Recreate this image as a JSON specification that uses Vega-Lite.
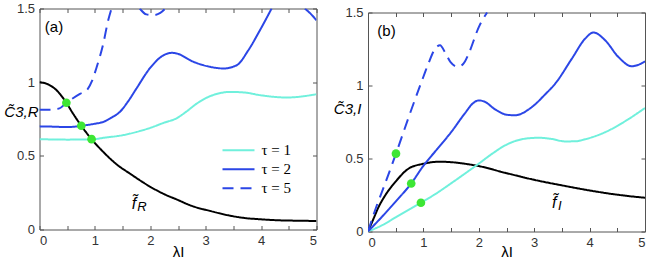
{
  "$schema": "https://vega.github.io/schema/vega-lite/v6.json",
  "background": "white",
  "padding": {"left": 2.5, "top": 1.5, "right": 0, "bottom": 0},
  "spacing": 15.5,
  "config": {
    "view": {"stroke": "#555", "strokeWidth": 1},
    "axis": {"grid": false, "labelFont": "Liberation Sans", "labelFontSize": 13, "labelColor": "#333", "tickColor": "#555", "domainColor": "#555", "domainWidth": 1, "tickSize": -4, "labelPadding": 9, "titleFont": "Liberation Sans", "titleColor": "#000", "titleFontWeight": "normal"},
    "legend": {"labelFont": "Liberation Serif", "labelFontSize": 15, "labelColor": "#000"}
  },
  "datasets": {
    "curves": [
      {"p":"a","s":"f","g":0,"x":0,"y":1},{"p":"a","s":"f","g":0,"x":0.15,"y":0.986},{"p":"a","s":"f","g":0,"x":0.3,"y":0.948},{"p":"a","s":"f","g":0,"x":0.485,"y":0.86},{"p":"a","s":"f","g":0,"x":0.6,"y":0.79},{"p":"a","s":"f","g":0,"x":0.754,"y":0.704},{"p":"a","s":"f","g":0,"x":0.94,"y":0.613},{"p":"a","s":"f","g":0,"x":1.15,"y":0.527},{"p":"a","s":"f","g":0,"x":1.4,"y":0.44},{"p":"a","s":"f","g":0,"x":1.63,"y":0.38},{"p":"a","s":"f","g":0,"x":2,"y":0.29},{"p":"a","s":"f","g":0,"x":2.25,"y":0.24},{"p":"a","s":"f","g":0,"x":2.475,"y":0.204},{"p":"a","s":"f","g":0,"x":2.75,"y":0.16},{"p":"a","s":"f","g":0,"x":3.08,"y":0.126},{"p":"a","s":"f","g":0,"x":3.4,"y":0.097},{"p":"a","s":"f","g":0,"x":3.68,"y":0.079},{"p":"a","s":"f","g":0,"x":4,"y":0.069},{"p":"a","s":"f","g":0,"x":4.28,"y":0.063},{"p":"a","s":"f","g":0,"x":4.6,"y":0.06},{"p":"a","s":"f","g":0,"x":5,"y":0.058},
      {"p":"a","s":"τ = 1","g":0,"x":0,"y":0.613},{"p":"a","s":"τ = 1","g":0,"x":0.5,"y":0.61},{"p":"a","s":"τ = 1","g":0,"x":0.94,"y":0.611},{"p":"a","s":"τ = 1","g":0,"x":1.15,"y":0.622},{"p":"a","s":"τ = 1","g":0,"x":1.5,"y":0.64},{"p":"a","s":"τ = 1","g":0,"x":1.75,"y":0.662},{"p":"a","s":"τ = 1","g":0,"x":2,"y":0.69},{"p":"a","s":"τ = 1","g":0,"x":2.25,"y":0.725},{"p":"a","s":"τ = 1","g":0,"x":2.475,"y":0.755},{"p":"a","s":"τ = 1","g":0,"x":2.65,"y":0.8},{"p":"a","s":"τ = 1","g":0,"x":2.84,"y":0.855},{"p":"a","s":"τ = 1","g":0,"x":3.08,"y":0.905},{"p":"a","s":"τ = 1","g":0,"x":3.25,"y":0.925},{"p":"a","s":"τ = 1","g":0,"x":3.44,"y":0.934},{"p":"a","s":"τ = 1","g":0,"x":3.7,"y":0.93},{"p":"a","s":"τ = 1","g":0,"x":3.98,"y":0.912},{"p":"a","s":"τ = 1","g":0,"x":4.46,"y":0.896},{"p":"a","s":"τ = 1","g":0,"x":5,"y":0.918},
      {"p":"a","s":"τ = 2","g":0,"x":0,"y":0.7},{"p":"a","s":"τ = 2","g":0,"x":0.25,"y":0.698},{"p":"a","s":"τ = 2","g":0,"x":0.5,"y":0.695},{"p":"a","s":"τ = 2","g":0,"x":0.754,"y":0.704},{"p":"a","s":"τ = 2","g":0,"x":1,"y":0.718},{"p":"a","s":"τ = 2","g":0,"x":1.15,"y":0.73},{"p":"a","s":"τ = 2","g":0,"x":1.3,"y":0.76},{"p":"a","s":"τ = 2","g":0,"x":1.45,"y":0.798},{"p":"a","s":"τ = 2","g":0,"x":1.6,"y":0.87},{"p":"a","s":"τ = 2","g":0,"x":1.75,"y":0.957},{"p":"a","s":"τ = 2","g":0,"x":1.99,"y":1.093},{"p":"a","s":"τ = 2","g":0,"x":2.24,"y":1.183},{"p":"a","s":"τ = 2","g":0,"x":2.4,"y":1.199},{"p":"a","s":"τ = 2","g":0,"x":2.475,"y":1.195},{"p":"a","s":"τ = 2","g":0,"x":2.78,"y":1.138},{"p":"a","s":"τ = 2","g":0,"x":3.08,"y":1.104},{"p":"a","s":"τ = 2","g":0,"x":3.32,"y":1.093},{"p":"a","s":"τ = 2","g":0,"x":3.56,"y":1.115},{"p":"a","s":"τ = 2","g":0,"x":3.77,"y":1.217},{"p":"a","s":"τ = 2","g":0,"x":3.98,"y":1.353},{"p":"a","s":"τ = 2","g":0,"x":4.19,"y":1.5},
      {"p":"a","s":"τ = 2","g":1,"x":4.79,"y":1.5},{"p":"a","s":"τ = 2","g":1,"x":4.9,"y":1.462},{"p":"a","s":"τ = 2","g":1,"x":5,"y":1.42},
      {"p":"a","s":"τ = 5","g":0,"x":0,"y":0.813},{"p":"a","s":"τ = 5","g":0,"x":0.2,"y":0.813},{"p":"a","s":"τ = 5","g":0,"x":0.36,"y":0.822},{"p":"a","s":"τ = 5","g":0,"x":0.485,"y":0.86},{"p":"a","s":"τ = 5","g":0,"x":0.55,"y":0.877},{"p":"a","s":"τ = 5","g":0,"x":0.73,"y":0.92},{"p":"a","s":"τ = 5","g":0,"x":0.853,"y":0.945},{"p":"a","s":"τ = 5","g":0,"x":0.95,"y":1.01},{"p":"a","s":"τ = 5","g":0,"x":1.03,"y":1.1},{"p":"a","s":"τ = 5","g":0,"x":1.15,"y":1.26},{"p":"a","s":"τ = 5","g":0,"x":1.24,"y":1.42},{"p":"a","s":"τ = 5","g":0,"x":1.3,"y":1.5},
      {"p":"a","s":"τ = 5","g":1,"x":1.81,"y":1.5},{"p":"a","s":"τ = 5","g":1,"x":1.93,"y":1.46},{"p":"a","s":"τ = 5","g":1,"x":2.05,"y":1.455},{"p":"a","s":"τ = 5","g":1,"x":2.18,"y":1.47},{"p":"a","s":"τ = 5","g":1,"x":2.27,"y":1.5},
      {"p":"b","s":"f","g":0,"x":0,"y":0},{"p":"b","s":"f","g":0,"x":0.1,"y":0.088},{"p":"b","s":"f","g":0,"x":0.19,"y":0.167},{"p":"b","s":"f","g":0,"x":0.31,"y":0.247},{"p":"b","s":"f","g":0,"x":0.49,"y":0.338},{"p":"b","s":"f","g":0,"x":0.73,"y":0.43},{"p":"b","s":"f","g":0,"x":1,"y":0.464},{"p":"b","s":"f","g":0,"x":1.3,"y":0.478},{"p":"b","s":"f","g":0,"x":1.5,"y":0.475},{"p":"b","s":"f","g":0,"x":1.75,"y":0.464},{"p":"b","s":"f","g":0,"x":2,"y":0.448},{"p":"b","s":"f","g":0,"x":2.476,"y":0.402},{"p":"b","s":"f","g":0,"x":3,"y":0.354},{"p":"b","s":"f","g":0,"x":3.5,"y":0.316},{"p":"b","s":"f","g":0,"x":4,"y":0.281},{"p":"b","s":"f","g":0,"x":4.52,"y":0.251},{"p":"b","s":"f","g":0,"x":5,"y":0.231},
      {"p":"b","s":"τ = 1","g":0,"x":0,"y":0},{"p":"b","s":"τ = 1","g":0,"x":0.25,"y":0.042},{"p":"b","s":"τ = 1","g":0,"x":0.5,"y":0.097},{"p":"b","s":"τ = 1","g":0,"x":0.955,"y":0.197},{"p":"b","s":"τ = 1","g":0,"x":1.25,"y":0.265},{"p":"b","s":"τ = 1","g":0,"x":1.5,"y":0.33},{"p":"b","s":"τ = 1","g":0,"x":2,"y":0.465},{"p":"b","s":"τ = 1","g":0,"x":2.25,"y":0.535},{"p":"b","s":"τ = 1","g":0,"x":2.476,"y":0.59},{"p":"b","s":"τ = 1","g":0,"x":2.66,"y":0.62},{"p":"b","s":"τ = 1","g":0,"x":2.84,"y":0.636},{"p":"b","s":"τ = 1","g":0,"x":3.08,"y":0.642},{"p":"b","s":"τ = 1","g":0,"x":3.3,"y":0.635},{"p":"b","s":"τ = 1","g":0,"x":3.56,"y":0.617},{"p":"b","s":"τ = 1","g":0,"x":3.75,"y":0.618},{"p":"b","s":"τ = 1","g":0,"x":3.92,"y":0.632},{"p":"b","s":"τ = 1","g":0,"x":4.28,"y":0.68},{"p":"b","s":"τ = 1","g":0,"x":4.64,"y":0.755},{"p":"b","s":"τ = 1","g":0,"x":5,"y":0.846},
      {"p":"b","s":"τ = 2","g":0,"x":0,"y":0},{"p":"b","s":"τ = 2","g":0,"x":0.25,"y":0.1},{"p":"b","s":"τ = 2","g":0,"x":0.5,"y":0.205},{"p":"b","s":"τ = 2","g":0,"x":0.78,"y":0.329},{"p":"b","s":"τ = 2","g":0,"x":1,"y":0.45},{"p":"b","s":"τ = 2","g":0,"x":1.25,"y":0.565},{"p":"b","s":"τ = 2","g":0,"x":1.5,"y":0.68},{"p":"b","s":"τ = 2","g":0,"x":1.75,"y":0.81},{"p":"b","s":"τ = 2","g":0,"x":1.9,"y":0.88},{"p":"b","s":"τ = 2","g":0,"x":2,"y":0.898},{"p":"b","s":"τ = 2","g":0,"x":2.1,"y":0.89},{"p":"b","s":"τ = 2","g":0,"x":2.3,"y":0.835},{"p":"b","s":"τ = 2","g":0,"x":2.5,"y":0.8},{"p":"b","s":"τ = 2","g":0,"x":2.65,"y":0.796},{"p":"b","s":"τ = 2","g":0,"x":2.96,"y":0.853},{"p":"b","s":"τ = 2","g":0,"x":3.2,"y":0.94},{"p":"b","s":"τ = 2","g":0,"x":3.38,"y":1.013},{"p":"b","s":"τ = 2","g":0,"x":3.68,"y":1.184},{"p":"b","s":"τ = 2","g":0,"x":3.92,"y":1.321},{"p":"b","s":"τ = 2","g":0,"x":4.07,"y":1.363},{"p":"b","s":"τ = 2","g":0,"x":4.28,"y":1.31},{"p":"b","s":"τ = 2","g":0,"x":4.52,"y":1.195},{"p":"b","s":"τ = 2","g":0,"x":4.76,"y":1.132},{"p":"b","s":"τ = 2","g":0,"x":4.9,"y":1.145},{"p":"b","s":"τ = 2","g":0,"x":5,"y":1.166},
      {"p":"b","s":"τ = 5","g":0,"x":0,"y":0},{"p":"b","s":"τ = 5","g":0,"x":0.17,"y":0.19},{"p":"b","s":"τ = 5","g":0,"x":0.25,"y":0.27},{"p":"b","s":"τ = 5","g":0,"x":0.505,"y":0.533},{"p":"b","s":"τ = 5","g":0,"x":0.75,"y":0.8},{"p":"b","s":"τ = 5","g":0,"x":1,"y":1.06},{"p":"b","s":"τ = 5","g":0,"x":1.1,"y":1.16},{"p":"b","s":"τ = 5","g":0,"x":1.2,"y":1.245},{"p":"b","s":"τ = 5","g":0,"x":1.3,"y":1.276},{"p":"b","s":"τ = 5","g":0,"x":1.4,"y":1.22},{"p":"b","s":"τ = 5","g":0,"x":1.49,"y":1.16},{"p":"b","s":"τ = 5","g":0,"x":1.63,"y":1.127},{"p":"b","s":"τ = 5","g":0,"x":1.75,"y":1.165},{"p":"b","s":"τ = 5","g":0,"x":1.82,"y":1.22},{"p":"b","s":"τ = 5","g":0,"x":2,"y":1.4},{"p":"b","s":"τ = 5","g":0,"x":2.15,"y":1.5}
    ],
    "dots": [
      {"p":"a","x":0.485,"y":0.86},{"p":"a","x":0.754,"y":0.704},{"p":"a","x":0.94,"y":0.613},
      {"p":"b","x":0.505,"y":0.533},{"p":"b","x":0.78,"y":0.329},{"p":"b","x":0.955,"y":0.197}
    ],
    "labels": [
      {"p":"a","k":"panel","t":"(a)","x":0.096,"y":1.339},
      {"p":"a","k":"f","t":"f̃","x":1.664,"y":0.138},
      {"p":"a","k":"sub","t":"R","x":1.763,"y":0.124},
      {"p":"b","k":"panel","t":"(b)","x":0.168,"y":1.337},
      {"p":"b","k":"f","t":"f̃","x":3.323,"y":0.158},
      {"p":"b","k":"sub","t":"I","x":3.43,"y":0.144}
    ]
  },
  "hconcat": [
    {
      "width": 277, "height": 221,
      "resolve": {"axis": {"x": "independent", "y": "independent"}},
      "layer": [
        {
          "data": {"name": "curves"},
          "transform": [{"filter": "datum.p === 'a'"}],
          "mark": {"type": "line", "clip": true, "strokeWidth": 2, "interpolate": "monotone"},
          "encoding": {
            "x": {"field": "x", "type": "quantitative", "scale": {"domain": [0, 5], "nice": false, "zero": false},
                  "axis": {"orient": "bottom", "values": [0,0.5,1,1.5,2,2.5,3,3.5,4,4.5,5], "format": "~g", "labelExpr": "datum.value % 1 === 0 ? datum.label : ''", "domain": false, "title": "λI", "titleFontSize": 15, "titleAlign": "center", "titleBaseline": "alphabetic", "titleX": 138.5, "titleY": 27}},
            "y": {"field": "y", "type": "quantitative", "scale": {"domain": [0, 1.5], "nice": false},
                  "axis": {"orient": "left", "values": [0,0.5,1,1.5], "format": "~g", "domain": false, "title": "C̃3,R", "titleFontSize": 15, "titleFontStyle": "italic", "titleAngle": 0, "titleAlign": "left", "titleBaseline": "alphabetic", "titleX": -35.7, "titleY": 107.7}},
            "detail": {"field": "g", "type": "nominal"},
            "color": {"field": "s", "type": "nominal", "scale": {"domain": ["τ = 1","τ = 2","τ = 5","f"], "range": ["#70f0dc","#2b46e6","#2b46e6","#000000"]},
                      "legend": {"title": null, "values": ["τ = 1","τ = 2","τ = 5"], "orient": "none", "legendX": 188, "legendY": 130.7, "symbolType": "M-1.6,0H1.6", "symbolSize": 400, "symbolStrokeWidth": 2, "rowPadding": -1.5, "labelOffset": 12, "labelFont": "Liberation Serif", "labelFontSize": 15}},
            "strokeDash": {"field": "s", "type": "nominal", "scale": {"domain": ["τ = 1","τ = 2","τ = 5","f"], "range": [[1,0],[1,0],[11,7],[1,0]]},
                      "legend": {"title": null, "values": ["τ = 1","τ = 2","τ = 5"], "orient": "none", "legendX": 188, "legendY": 130.7, "symbolType": "M-1.6,0H1.6", "symbolSize": 400, "symbolStrokeWidth": 2, "rowPadding": -1.5, "labelOffset": 12, "labelFont": "Liberation Serif", "labelFontSize": 15}}
          }
        },
        {
          "data": {"name": "curves"},
          "transform": [{"filter": "datum.p === 'a'"}],
          "mark": {"type": "rule", "opacity": 0},
          "encoding": {
            "x": {"field": "x", "type": "quantitative", "axis": {"orient": "top", "values": [0,0.5,1,1.5,2,2.5,3,3.5,4,4.5,5], "labels": false, "domain": false, "title": null}},
            "y": {"field": "y", "type": "quantitative", "axis": {"orient": "right", "values": [0,0.5,1,1.5], "labels": false, "domain": false, "title": null}}
          }
        },
        {
          "data": {"name": "dots"},
          "transform": [{"filter": "datum.p === 'a'"}],
          "mark": {"type": "point", "filled": true, "opacity": 1, "size": 75, "color": "#3de634"},
          "encoding": {
            "x": {"field": "x", "type": "quantitative", "axis": null},
            "y": {"field": "y", "type": "quantitative", "axis": null}
          }
        },
        {
          "data": {"name": "labels"},
          "transform": [{"filter": "datum.p === 'a' && datum.k === 'panel'"}],
          "mark": {"type": "text", "align": "left", "baseline": "alphabetic", "font": "Liberation Sans", "fontSize": 15, "color": "#000"},
          "encoding": {"x": {"field": "x", "type": "quantitative", "axis": null}, "y": {"field": "y", "type": "quantitative", "axis": null}, "text": {"field": "t"}}
        },
        {
          "data": {"name": "labels"},
          "transform": [{"filter": "datum.p === 'a' && datum.k === 'f'"}],
          "mark": {"type": "text", "align": "left", "baseline": "alphabetic", "font": "Liberation Sans", "fontSize": 16, "fontStyle": "italic", "color": "#000"},
          "encoding": {"x": {"field": "x", "type": "quantitative", "axis": null}, "y": {"field": "y", "type": "quantitative", "axis": null}, "text": {"field": "t"}}
        },
        {
          "data": {"name": "labels"},
          "transform": [{"filter": "datum.p === 'a' && datum.k === 'sub'"}],
          "mark": {"type": "text", "align": "left", "baseline": "alphabetic", "font": "Liberation Sans", "fontSize": 13, "fontStyle": "italic", "color": "#000"},
          "encoding": {"x": {"field": "x", "type": "quantitative", "axis": null}, "y": {"field": "y", "type": "quantitative", "axis": null}, "text": {"field": "t"}}
        }
      ]
    },
    {
      "width": 277, "height": 223,
      "view": {"stroke": null},
      "resolve": {"axis": {"x": "independent", "y": "independent"}},
      "layer": [
        {
          "data": {"name": "curves"},
          "transform": [{"filter": "datum.p === 'b'"}],
          "mark": {"type": "line", "clip": true, "strokeWidth": 2, "interpolate": "monotone"},
          "encoding": {
            "x": {"field": "x", "type": "quantitative", "scale": {"domain": [0, 5], "nice": false, "zero": false},
                  "axis": {"orient": "bottom", "values": [0,0.5,1,1.5,2,2.5,3,3.5,4,4.5,5], "format": "~g", "labelExpr": "datum.value % 1 === 0 ? datum.label : ''", "domain": true, "title": "λI", "titleFontSize": 15, "titleAlign": "center", "titleBaseline": "alphabetic", "titleX": 138.5, "titleY": 25}},
            "y": {"field": "y", "type": "quantitative", "scale": {"domain": [0, 1.5], "nice": false, "range": [223, 4]},
                  "axis": {"orient": "left", "values": [0,0.5,1,1.5], "format": "~g", "domain": true, "title": "C̃3,I", "titleFontSize": 15, "titleFontStyle": "italic", "titleAngle": 0, "titleAlign": "left", "titleBaseline": "alphabetic", "titleX": -34.7, "titleY": 104.7}},
            "detail": {"field": "g", "type": "nominal"},
            "color": {"field": "s", "type": "nominal", "scale": {"domain": ["τ = 1","τ = 2","τ = 5","f"], "range": ["#70f0dc","#2b46e6","#2b46e6","#000000"]}, "legend": null},
            "strokeDash": {"field": "s", "type": "nominal", "scale": {"domain": ["τ = 1","τ = 2","τ = 5","f"], "range": [[1,0],[1,0],[11,7],[1,0]]}, "legend": null}
          }
        },
        {
          "data": {"name": "curves"},
          "transform": [{"filter": "datum.p === 'b'"}],
          "mark": {"type": "rule", "opacity": 0},
          "encoding": {
            "x": {"field": "x", "type": "quantitative", "axis": {"orient": "top", "offset": -4, "values": [0,0.5,1,1.5,2,2.5,3,3.5,4,4.5,5], "labels": false, "domain": true, "title": null}},
            "y": {"field": "y", "type": "quantitative", "axis": {"orient": "right", "values": [0,0.5,1,1.5], "labels": false, "domain": true, "title": null}}
          }
        },
        {
          "data": {"name": "dots"},
          "transform": [{"filter": "datum.p === 'b'"}],
          "mark": {"type": "point", "filled": true, "opacity": 1, "size": 75, "color": "#3de634"},
          "encoding": {
            "x": {"field": "x", "type": "quantitative", "axis": null},
            "y": {"field": "y", "type": "quantitative", "axis": null}
          }
        },
        {
          "data": {"name": "labels"},
          "transform": [{"filter": "datum.p === 'b' && datum.k === 'panel'"}],
          "mark": {"type": "text", "align": "left", "baseline": "alphabetic", "font": "Liberation Sans", "fontSize": 15, "color": "#000"},
          "encoding": {"x": {"field": "x", "type": "quantitative", "axis": null}, "y": {"field": "y", "type": "quantitative", "axis": null}, "text": {"field": "t"}}
        },
        {
          "data": {"name": "labels"},
          "transform": [{"filter": "datum.p === 'b' && datum.k === 'f'"}],
          "mark": {"type": "text", "align": "left", "baseline": "alphabetic", "font": "Liberation Sans", "fontSize": 16, "fontStyle": "italic", "color": "#000"},
          "encoding": {"x": {"field": "x", "type": "quantitative", "axis": null}, "y": {"field": "y", "type": "quantitative", "axis": null}, "text": {"field": "t"}}
        },
        {
          "data": {"name": "labels"},
          "transform": [{"filter": "datum.p === 'b' && datum.k === 'sub'"}],
          "mark": {"type": "text", "align": "left", "baseline": "alphabetic", "font": "Liberation Sans", "fontSize": 13, "fontStyle": "italic", "color": "#000"},
          "encoding": {"x": {"field": "x", "type": "quantitative", "axis": null}, "y": {"field": "y", "type": "quantitative", "axis": null}, "text": {"field": "t"}}
        }
      ]
    }
  ]
}
